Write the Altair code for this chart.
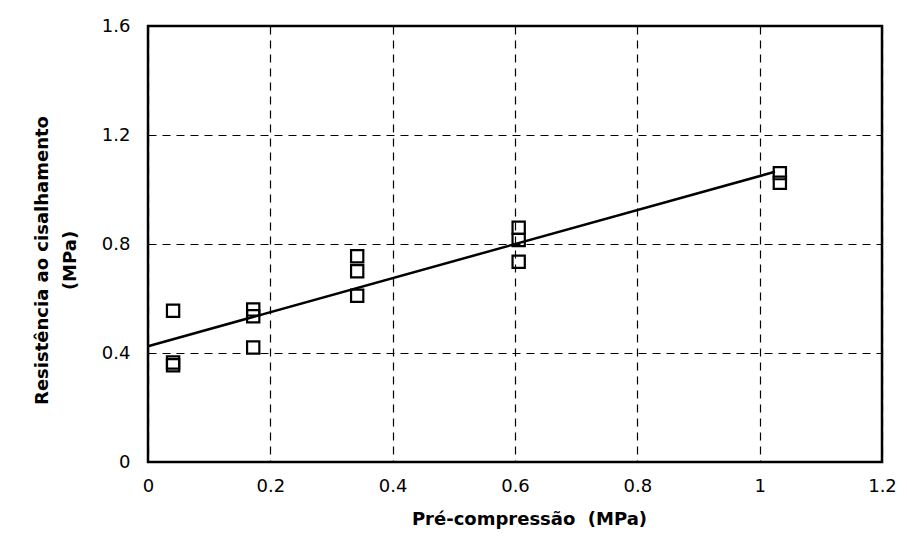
import altair as alt
import pandas as pd

# Data
pre_compressao = [0.041, 0.041, 0.041, 0.172, 0.172, 0.172, 0.342, 0.342, 0.342,
                  0.606, 0.606, 0.606, 1.033, 1.033]
resistencia = [0.555, 0.365, 0.355, 0.560, 0.535, 0.420, 0.755, 0.700, 0.610,
               0.860, 0.815, 0.735, 1.060, 1.025]
fit_x = [0.0, 1.025]
fit_y = [0.425, 1.065]

pts = pd.DataFrame({"x": pre_compressao, "y": resistencia})
fit = pd.DataFrame({"x": fit_x, "y": fit_y})

FONT = "DejaVu Sans"

xscale = alt.Scale(domain=[0, 1.2], nice=False, zero=False)
yscale = alt.Scale(domain=[0, 1.6], nice=False, zero=False)

xaxis = alt.Axis(values=[0, 0.2, 0.4, 0.6, 0.8, 1.0, 1.2], format="~g",
                 title="Pré-compressão\u00a0\u00a0(MPa)", grid=True, gridDash=[8, 6],
                 gridColor="black", gridWidth=1.2, gridOpacity=1,
                 ticks=False, domain=False, labelPadding=15, titlePadding=15,
                 labelFontSize=18, titleFontSize=18, labelColor="black",
                 titleColor="black", labelFont=FONT, titleFont=FONT,
                 titleFontWeight="bold", labelFlush=False, titleX=381)
yaxis = alt.Axis(values=[0, 0.4, 0.8, 1.2, 1.6], format="~g",
                 title=["Resistência ao cisalhamento", "(MPa)"], grid=True,
                 gridDash=[8, 6], gridColor="black", gridWidth=1.2, gridOpacity=1,
                 ticks=False, domain=False, labelPadding=18, titlePadding=22,
                 labelFontSize=18, titleFontSize=18, titleLineHeight=28,
                 labelColor="black",
                 titleColor="black", labelFont=FONT, titleFont=FONT,
                 titleFontWeight="bold", labelFlush=False, titleY=234)

points = alt.Chart(pts).mark_point(shape="square", size=150, filled=False,
                                   color="black", strokeWidth=2.2, opacity=1).encode(
    x=alt.X("x:Q", scale=xscale, axis=xaxis),
    y=alt.Y("y:Q", scale=yscale, axis=yaxis),
)

line = alt.Chart(fit).mark_line(color="black", strokeWidth=2.5).encode(
    x=alt.X("x:Q", scale=xscale),
    y=alt.Y("y:Q", scale=yscale),
)

chart = alt.layer(line, points).properties(
    width=734, height=436,
    padding={"left": 148, "top": 26, "right": 25, "bottom": 81},
    autosize=alt.AutoSizeParams(type="none"),
    background="white",
).configure_view(stroke="black", strokeWidth=2.5)

chart.save("out.html", embed_options={"renderer": "svg", "actions": False})
